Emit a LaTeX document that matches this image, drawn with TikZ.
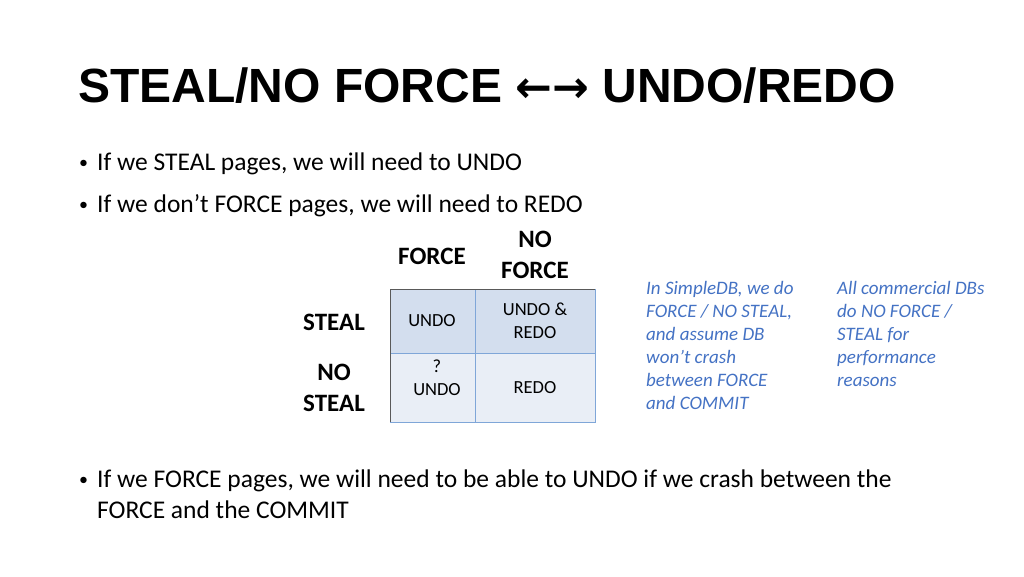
\documentclass[tikz,border=0pt]{standalone}
\usepackage{fontspec}
\setmainfont{Carlito}
\newfontfamily\titlefont{Liberation Sans}
\newfontfamily\arrowfont{DejaVu Sans}
\definecolor{noteblue}{HTML}{4472C4}
\definecolor{cellhi}{HTML}{D3DEEE}
\definecolor{celllo}{HTML}{E9EEF6}
\definecolor{gridblue}{HTML}{7FA6D8}
\begin{document}
\begin{tikzpicture}[x=1pt,y=-1pt]
    \tikzstyle{every node}=[inner sep=0pt, anchor=base west, font=\fontsize{25.5}{30}\selectfont]
    \tikzstyle{dot}=[font=\fontsize{18}{20}\selectfont]
    \tikzstyle{head}=[anchor=center, align=center, font=\fontsize{25}{31}\selectfont\bfseries]
    \tikzstyle{cell}=[anchor=center, align=center, font=\fontsize{18.5}{23}\selectfont]
    \tikzstyle{note}=[anchor=north west, align=left, text=noteblue, font=\fontsize{19}{23}\selectfont\itshape]
    \useasboundingbox (0,0) rectangle (1024,576);
    \fill[white] (0,0) rectangle (1024,576);

    \node (title) at (78,102) {\titlefont\fontsize{48}{52}\selectfont\bfseries STEAL/NO FORCE {\arrowfont\fontsize{44}{48}\selectfont\bfseries ←→} UNDO/REDO};

    \node[dot] (d1) at (79,168) {•};
    \node (b1) at (97,170) {If we STEAL pages, we will need to UNDO};
    \node[dot] (d2) at (79,210) {•};
    \node (b2) at (97,212) {If we don’t FORCE pages, we will need to REDO};
    \node[dot] (d3) at (79,485) {•};
    \node (b3) at (97,487) {If we FORCE pages, we will need to be able to UNDO if we crash between the};
    \node (b4) at (97,518) {FORCE and the COMMIT};

    % table cells
    \fill[cellhi] (390,289) rectangle (595,353);
    \fill[celllo] (390,353) rectangle (595,422);
    \draw[gridblue, line width=1pt] (475,289) -- (475,422);
    \draw[gridblue, line width=1pt] (390,353) -- (595,353);
    \draw[gridblue, line width=1pt] (390,422) -- (595,422) -- (595,289);
    \draw[gray!70!black, line width=1pt] (390,422) -- (390,289) -- (595,289);

    \node[head] (force) at (432,256) {FORCE};
    \node[head] (noforce) at (535,255) {NO\\FORCE};
    \node[head] (steal) at (334,322) {STEAL};
    \node[head] (nosteal) at (334,388) {NO\\STEAL};

    \node[cell] (uf) at (432,321) {UNDO};
    \node[cell] (ur) at (535,321) {UNDO \&\\REDO};
    \node[cell] (qu) at (437,378) {?\\UNDO};
    \node[cell] (rd) at (535,388) {REDO};

    \node[note] (simple) at (646,281) {In SimpleDB, we do\\FORCE / NO STEAL,\\and assume DB\\won’t crash\\between FORCE\\and COMMIT};
    \node[note] (commercial) at (837,281) {All commercial DBs\\do NO FORCE /\\STEAL for\\performance\\reasons};
\end{tikzpicture}
\end{document}
